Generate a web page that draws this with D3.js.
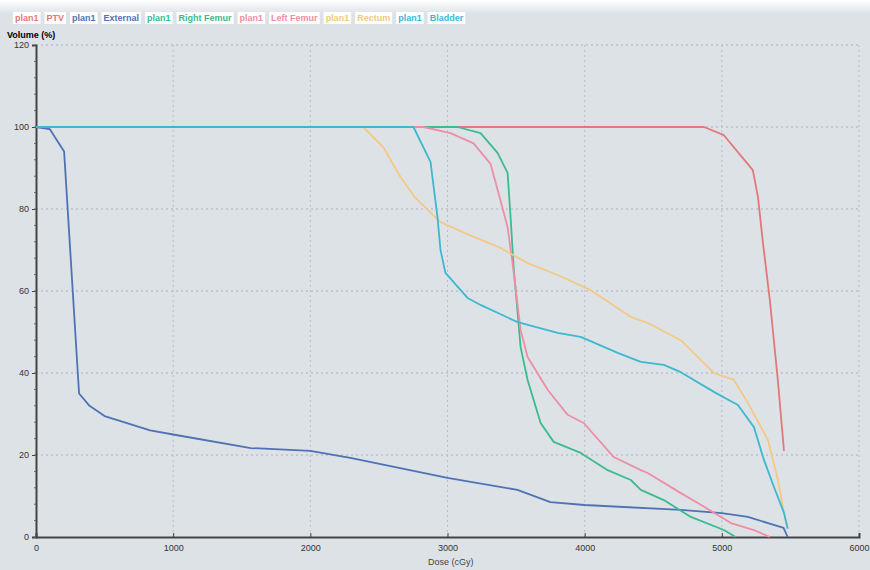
<!DOCTYPE html>
<html>
<head>
<meta charset="utf-8">
<script src="https://cdn.jsdelivr.net/npm/d3@7"></script>
<style>
  body { margin: 0; background: #dde2e7; }
  svg { display: block; }
  .tick text { font-family: "Liberation Sans", Arial, sans-serif; font-size: 9px; fill: #333; }
</style>
</head>
<body>
<svg id="chart"></svg>
<script>
const WIDTH = 870
const HEIGHT = 570
const MARGIN = {top: 45, right: 11, bottom: 33, left: 36}

const xTicks = [0, 1000, 2000, 3000, 4000, 5000, 6000]
const yTicks = [0, 20, 40, 60, 80, 100, 120]

const structures = ['PTV', 'External', 'Right Femur', 'Left Femur', 'Rectum', 'Bladder']
const colors = ['#e27878', '#4f72b4', '#3dba8e', '#ee8ea4', '#f3c983', '#3db8d0']

// dose (cGy) / volume (%) pairs
const ptvDose = [0, 4870, 5015, 5226, 5263, 5300, 5350, 5409, 5453]
const ptvVol  = [100, 100, 98, 89.5, 83, 71.7, 57.8, 38, 21]

const externalDose = [0, 100, 205, 314, 390, 500, 832, 1000, 1566, 2000, 2292, 3000, 3510, 3750, 4000, 4700, 5000, 5190, 5450, 5480]
const externalVol  = [100, 99.5, 94, 35, 32, 29.5, 26, 25, 21.7, 21, 19.3, 14.4, 11.5, 8.5, 7.8, 6.6, 5.8, 4.9, 2.2, 0]

const rightFemurDose = [0, 3073, 3241, 3365, 3438, 3460, 3482, 3533, 3584, 3679, 3774, 3971, 4168, 4336, 4409, 4577, 4774, 5015, 5100]
const rightFemurVol  = [100, 100, 98.5, 93.7, 88.8, 78, 65.9, 46.3, 38.3, 27.8, 23.2, 20.5, 16.3, 13.9, 11.5, 9, 4.9, 1.7, 0]

const leftFemurDose = [0, 2825, 3022, 3190, 3314, 3387, 3438, 3474, 3533, 3584, 3730, 3876, 3993, 4212, 4409, 4460, 4701, 4825, 5066, 5234, 5350]
const leftFemurVol  = [100, 100, 98.5, 96, 91, 82, 75.6, 66.8, 50.5, 43.9, 35.9, 29.8, 27.8, 19.5, 16.3, 15.6, 10.7, 8.3, 3.4, 1.7, 0]

const rectumDose = [0, 2387, 2533, 2657, 2766, 2949, 3190, 3387, 3584, 3803, 4044, 4336, 4460, 4701, 4942, 5088, 5190, 5336, 5409, 5453, 5480]
const rectumVol  = [100, 100, 95, 87.8, 82.7, 76.8, 73.2, 70.5, 66.8, 63.9, 60.2, 53.7, 52.2, 48, 40, 38.3, 32.7, 23.7, 13.9, 5.9, 2]

const bladderDose = [0, 2752, 2876, 2927, 2949, 2985, 3146, 3241, 3511, 3803, 3971, 4241, 4409, 4577, 4701, 4942, 5117, 5234, 5307, 5380, 5453, 5480]
const bladderVol  = [100, 100, 91.5, 78, 70, 64.4, 58.3, 56.6, 52.4, 49.8, 48.8, 44.9, 42.7, 42, 40.2, 35.4, 32.2, 26.8, 18.8, 12.2, 5.9, 2]

const doses = [ptvDose, externalDose, rightFemurDose, leftFemurDose, rectumDose, bladderDose]
const volumes = [ptvVol, externalVol, rightFemurVol, leftFemurVol, rectumVol, bladderVol]

let svg = d3.select('#chart')
    .attr('width', WIDTH)
    .attr('height', HEIGHT)

// faint white band at the top like the screen photo
let grad = svg.append('defs').append('linearGradient')
    .attr('id', 'topFade').attr('x1', 0).attr('y1', 0).attr('x2', 0).attr('y2', 1)
grad.append('stop').attr('offset', '0%').attr('stop-color', '#ffffff')
grad.append('stop').attr('offset', '100%').attr('stop-color', '#dde2e7')
svg.append('rect').attr('width', WIDTH).attr('height', 14).attr('fill', 'url(#topFade)')

let xScale = d3.scaleLinear().domain([0, 6000]).range([MARGIN.left, WIDTH - MARGIN.right])
let yScale = d3.scaleLinear().domain([0, 120]).range([HEIGHT - MARGIN.bottom, MARGIN.top])

// grid
svg.append('g')
    .selectAll('line')
    .data(yTicks.slice(1))
    .join('line')
    .attr('x1', MARGIN.left).attr('x2', xScale(6000))
    .attr('y1', d => yScale(d)).attr('y2', d => yScale(d))
    .style('stroke', '#aab0b8').style('stroke-dasharray', '2,3')

svg.append('g')
    .selectAll('line')
    .data(xTicks.slice(1))
    .join('line')
    .attr('x1', d => xScale(d)).attr('x2', d => xScale(d))
    .attr('y1', yScale(120)).attr('y2', yScale(0))
    .style('stroke', '#b8bec6').style('stroke-dasharray', '2,3')

// axes
let xAxis = svg.append('g')
    .attr('transform', 'translate(0,' + yScale(0) + ')')
    .call(d3.axisBottom(xScale).tickValues(xTicks).tickSize(-4).tickPadding(8).tickFormat(d3.format('d')))
xAxis.select('.domain').attr('stroke', '#444').attr('stroke-width', 2)
xAxis.selectAll('.tick line').attr('stroke', '#444')

let yAxis = svg.append('g')
    .attr('transform', 'translate(' + MARGIN.left + ',0)')
    .call(d3.axisLeft(yScale).tickValues(yTicks).tickSize(4).tickPadding(3))
yAxis.select('.domain').attr('stroke', '#444').attr('stroke-width', 2)
yAxis.selectAll('.tick line').attr('stroke', '#444')

// minor ticks on the y axis
svg.append('g')
    .selectAll('line')
    .data(d3.range(0, 121, 4))
    .join('line')
    .attr('x1', MARGIN.left - 2).attr('x2', MARGIN.left)
    .attr('y1', d => yScale(d)).attr('y2', d => yScale(d))
    .style('stroke', '#666')

// curves
let line = d3.line()
    .x(d => xScale(d[0]))
    .y(d => yScale(d[1]))

structures.forEach((s, i) => {
    let pts = doses[i].map((d, j) => [d, volumes[i][j]])
    svg.append('path')
        .datum(pts)
        .attr('d', line)
        .attr('fill', 'none')
        .attr('stroke', colors[i])
        .attr('stroke-width', 1.8)
        .attr('stroke-linejoin', 'round')
})

// axis titles
svg.append('text')
    .text('Volume (%)')
    .attr('x', 7).attr('y', 38)
    .style('font-family', '"Liberation Sans", Arial, sans-serif')
    .style('font-size', '9px').style('font-weight', 'bold')

svg.append('text')
    .text('Dose (cGy)')
    .attr('x', 428).attr('y', 565)
    .style('font-family', '"Liberation Sans", Arial, sans-serif')
    .style('font-size', '9px').style('fill', '#444')

// legend
let legend = svg.append('g').attr('transform', 'translate(13,12)')
let lx = 0
structures.forEach((s, i) => {
    [ 'plan1', s ].forEach(label => {
        let g = legend.append('g').attr('transform', 'translate(' + lx + ',0)')
        let t = g.append('text')
            .text(label)
            .attr('x', 2).attr('y', 9)
            .style('font-family', '"Liberation Sans", Arial, sans-serif')
            .style('font-size', '9px')
            .style('font-weight', 'bold')
            .style('fill', colors[i])
        let w = t.node().getComputedTextLength() + 4
        g.insert('rect', 'text')
            .attr('width', w).attr('height', 12)
            .attr('fill', '#ffffff')
        lx += w + 4
    })
})
</script>
</body>
</html>
